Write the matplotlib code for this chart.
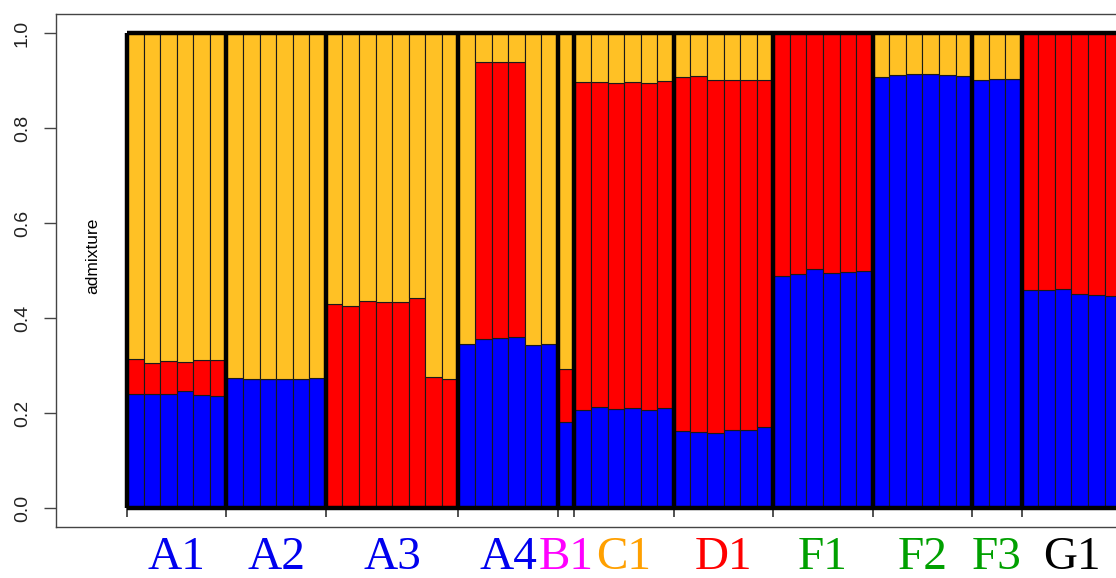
import numpy as np
import matplotlib
matplotlib.use("Agg")
import matplotlib.pyplot as plt
import matplotlib.transforms as mtransforms

plt.rcParams['font.family'] = ['Liberation Sans', 'DejaVu Sans']

# gruppi e colori delle etichette
groups = ["A1", "A2", "A3", "A4", "B1", "C1", "D1", "F1", "F2", "F3", "G1"]
group_colors = ["#0000EE", "#0000EE", "#0000EE", "#0000EE", "#FF00FF", "#FFA000",
                "#FF0000", "#00A000", "#00A000", "#00A000", "#000000"]

# componente blu (K1) per ogni individuo
blue = [
    0.239, 0.241, 0.240, 0.246, 0.238, 0.236,                   # A1
    0.274, 0.272, 0.272, 0.272, 0.272, 0.274,                   # A2
    0.0, 0.0, 0.0, 0.0, 0.0, 0.0, 0.0, 0.0,                     # A3
    0.345, 0.356, 0.358, 0.359, 0.343, 0.345,                   # A4
    0.182,                                                      # B1
    0.206, 0.212, 0.208, 0.210, 0.206, 0.211,                   # C1
    0.162, 0.161, 0.158, 0.164, 0.164, 0.170,                   # D1
    0.488, 0.493, 0.504, 0.494, 0.496, 0.500,                   # F1
    0.907, 0.911, 0.914, 0.913, 0.912, 0.909,                   # F2
    0.901, 0.903, 0.903,                                        # F3
    0.460, 0.458, 0.462, 0.450, 0.448, 0.447,                   # G1
]

# componente rossa (K2)
red = [
    0.074, 0.064, 0.069, 0.061, 0.074, 0.076,
    0.0, 0.0, 0.0, 0.0, 0.0, 0.0,
    0.429, 0.426, 0.436, 0.434, 0.433, 0.443, 0.276, 0.272,
    0.0, 0.582, 0.582, 0.581, 0.0, 0.0,
    0.111,
    0.690, 0.684, 0.687, 0.687, 0.689, 0.688,
    0.745, 0.748, 0.743, 0.737, 0.738, 0.731,
    0.512, 0.507, 0.496, 0.506, 0.504, 0.500,
    0.0, 0.0, 0.0, 0.0, 0.0, 0.0,
    0.0, 0.0, 0.0,
    0.540, 0.542, 0.538, 0.550, 0.552, 0.553,
]

sizes = [6, 6, 8, 6, 1, 6, 6, 6, 6, 3, 6]

blue = np.array(blue)
red = np.array(red)
gold = 1 - blue - red   # il resto è la componente gialla
n = len(blue)
x = np.arange(n)

W, H = 1116, 578
s = 16.57   # pixel per barra
fig = plt.figure(figsize=(W / 100, H / 100), dpi=100)
ax = fig.add_axes([56 / W, 1 - 527 / H, (1160 - 56) / W, 513 / H])

ec = "#1a1a1a"
ax.bar(x, blue, width=1, align="edge", color="#0000FF", edgecolor=ec, linewidth=0.8)
ax.bar(x, red, width=1, bottom=blue, align="edge", color="#FF0000", edgecolor=ec, linewidth=0.8)
ax.bar(x, gold, width=1, bottom=blue + red, align="edge", color="#FFC125", edgecolor=ec, linewidth=0.8)

# bordi spessi dei gruppi
bounds = np.concatenate([[0], np.cumsum(sizes)])
ax.vlines(bounds, 0, 1, color="black", linewidth=3.2, zorder=5)
ax.hlines([0, 1], 0, n, color="black", linewidth=3.2, zorder=5)

ax.set_xlim(-71 / s, (1160 - 127) / s)
ax.set_ylim(-0.04, 1.04)

# tacche ai confini dei gruppi, sulla linea y=0
sec = ax.secondary_xaxis(0.04 / 1.08)
sec.set_xticks(bounds)
sec.set_xticklabels([])
sec.tick_params(length=6.5, width=1.1, color="#222")
sec.spines["bottom"].set_visible(False)

ax.set_xticks([])
ax.set_yticks([0, 0.2, 0.4, 0.6, 0.8, 1.0])
ax.set_yticklabels(["0.0", "0.2", "0.4", "0.6", "0.8", "1.0"], rotation=90, va="center")
ax.tick_params(axis="y", length=9, width=1, color="#444", labelsize=14, pad=9, labelcolor="#222")
for side in ["left", "top", "bottom", "right"]:
    ax.spines[side].set_color("#444")
    ax.spines[side].set_linewidth(1.0)

ax.text((93 - 127) / s, 0.53, "admixture", rotation=90, ha="center", va="center", fontsize=12.5)

# etichette dei gruppi
centers = (bounds[:-1] + bounds[1:]) / 2
trans = mtransforms.blended_transform_factory(ax.transData, fig.transFigure)
for c, g, col in zip(centers, groups, group_colors):
    ax.text(c, 1 - 569 / H, g, transform=trans, ha="center", va="baseline",
            fontsize=34, color=col, family="Liberation Serif", clip_on=False)

fig.savefig("out.png", dpi=100)
